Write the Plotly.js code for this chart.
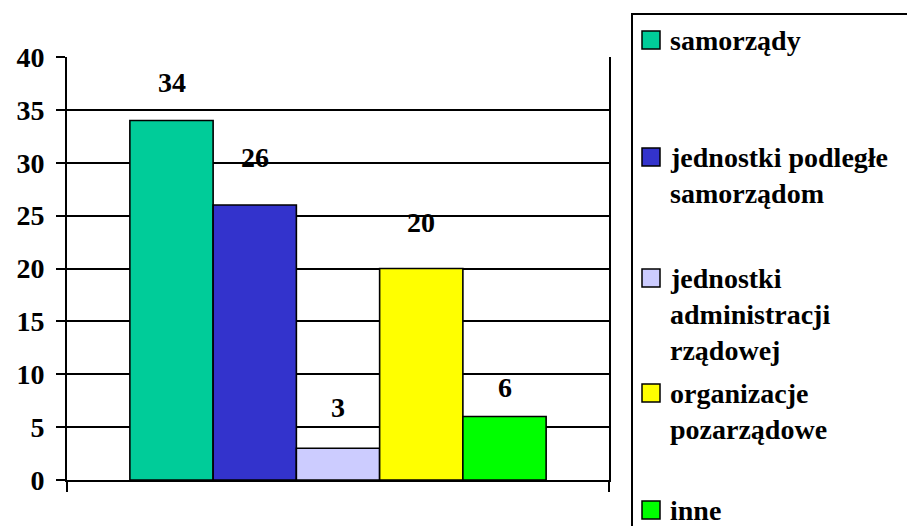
<!DOCTYPE html>
<html>
<head>
<meta charset="utf-8">
<script src="https://cdn.plot.ly/plotly-3.0.1.min.js"></script>
<style>
html,body{margin:0;padding:0;background:#fff;}
#chart{width:907px;height:526px;}
</style>
</head>
<body>
<div id="chart"></div>
<script>
// ---- data ----
var category = [''];
var seriesNames = ['samorządy', 'jednostki podległe<br>samorządom', 'jednostki<br>administracji<br>rządowej', 'organizacje<br>pozarządowe', 'inne'];
var seriesValues = [34, 26, 3, 20, 6];
var seriesColors = ['#00CC99', '#3333CC', '#CCCCFF', '#FFFF00', '#00FF00'];
var yTickVals = [0, 5, 10, 15, 20, 25, 30, 35, 40];

// ---- layout constants ----
var W = 907, H = 526;
var M = {l: 67, r: 298, t: 57, b: 46};
var plotW = W - M.l - M.r, plotH = H - M.t - M.b;
var FONT = '"Liberation Serif", "Times New Roman", serif';
var BARGAP = 0.232;
var labelShift = [38, 48, 41, 46, 29];           // px above bar top for value labels
var legendFirstLineY = [40, 157, 278, 393, 510]; // px, centre of first line of each legend entry
var legendLineStep = 36;

function pxX(p) { return (p - M.l) / plotW; }
function pxY(p) { return (H - M.b - p) / plotH; }

var traces = seriesValues.map(function (v, i) {
  return {
    type: 'bar',
    x: category,
    y: [v],
    name: seriesNames[i],
    marker: {color: seriesColors[i], line: {color: '#000', width: 1.6}},
    hoverinfo: 'none'
  };
});

var n = seriesValues.length;
var bw = (1 - BARGAP) / n;
var annotations = [];
var shapes = [];

seriesValues.forEach(function (v, i) {
  annotations.push({
    xref: 'x', yref: 'y',
    x: -(1 - BARGAP) / 2 + bw * (i + 0.5),
    y: v,
    yshift: labelShift[i],
    text: '<b>' + v + '</b>',
    showarrow: false,
    xanchor: 'center', yanchor: 'middle',
    font: {family: FONT, size: 28, color: '#000'}
  });
});

// legend box
shapes.push({
  type: 'rect', xref: 'paper', yref: 'paper',
  x0: pxX(632), x1: pxX(930), y0: pxY(14), y1: pxY(560),
  line: {color: '#000', width: 2}, fillcolor: 'rgba(0,0,0,0)', layer: 'above'
});

seriesNames.forEach(function (name, i) {
  var cy = legendFirstLineY[i];
  shapes.push({
    type: 'rect', xref: 'paper', yref: 'paper',
    x0: pxX(642), x1: pxX(660), y0: pxY(cy - 9), y1: pxY(cy + 9),
    line: {color: '#000', width: 1.5}, fillcolor: seriesColors[i], layer: 'above'
  });
  name.split('<br>').forEach(function (line, j) {
    annotations.push({
      xref: 'paper', yref: 'paper',
      x: pxX(668), y: pxY(cy + j * legendLineStep),
      text: '<b>' + line + '</b>', showarrow: false,
      xanchor: 'left', yanchor: 'middle',
      font: {family: FONT, size: 28, color: '#000'}
    });
  });
});

var layout = {
  width: W, height: H,
  margin: M,
  font: {family: FONT},
  paper_bgcolor: '#fff', plot_bgcolor: '#fff',
  barmode: 'group', bargap: BARGAP, bargroupgap: 0,
  showlegend: false,
  xaxis: {
    type: 'category',
    showticklabels: false,
    ticks: 'outside', tickson: 'boundaries', ticklen: 10, tickwidth: 2, tickcolor: '#000',
    showline: true, linecolor: '#000', linewidth: 2,
    showgrid: false, zeroline: false, fixedrange: true
  },
  yaxis: {
    range: [0, 40],
    tickmode: 'array', tickvals: yTickVals,
    ticktext: yTickVals.map(function (t) { return '<b>' + t + '</b>'; }),
    ticks: 'outside', ticklen: 9, tickwidth: 2, tickcolor: '#000',
    ticklabelstandoff: 6,
    tickfont: {family: FONT, size: 28, color: '#000'},
    showline: true, linecolor: '#000', linewidth: 2, mirror: true,
    showgrid: true, gridcolor: '#000', gridwidth: 2,
    zeroline: false, fixedrange: true
  },
  annotations: annotations,
  shapes: shapes
};

Plotly.newPlot('chart', traces, layout, {displayModeBar: false, staticPlot: true});
</script>
</body>
</html>
